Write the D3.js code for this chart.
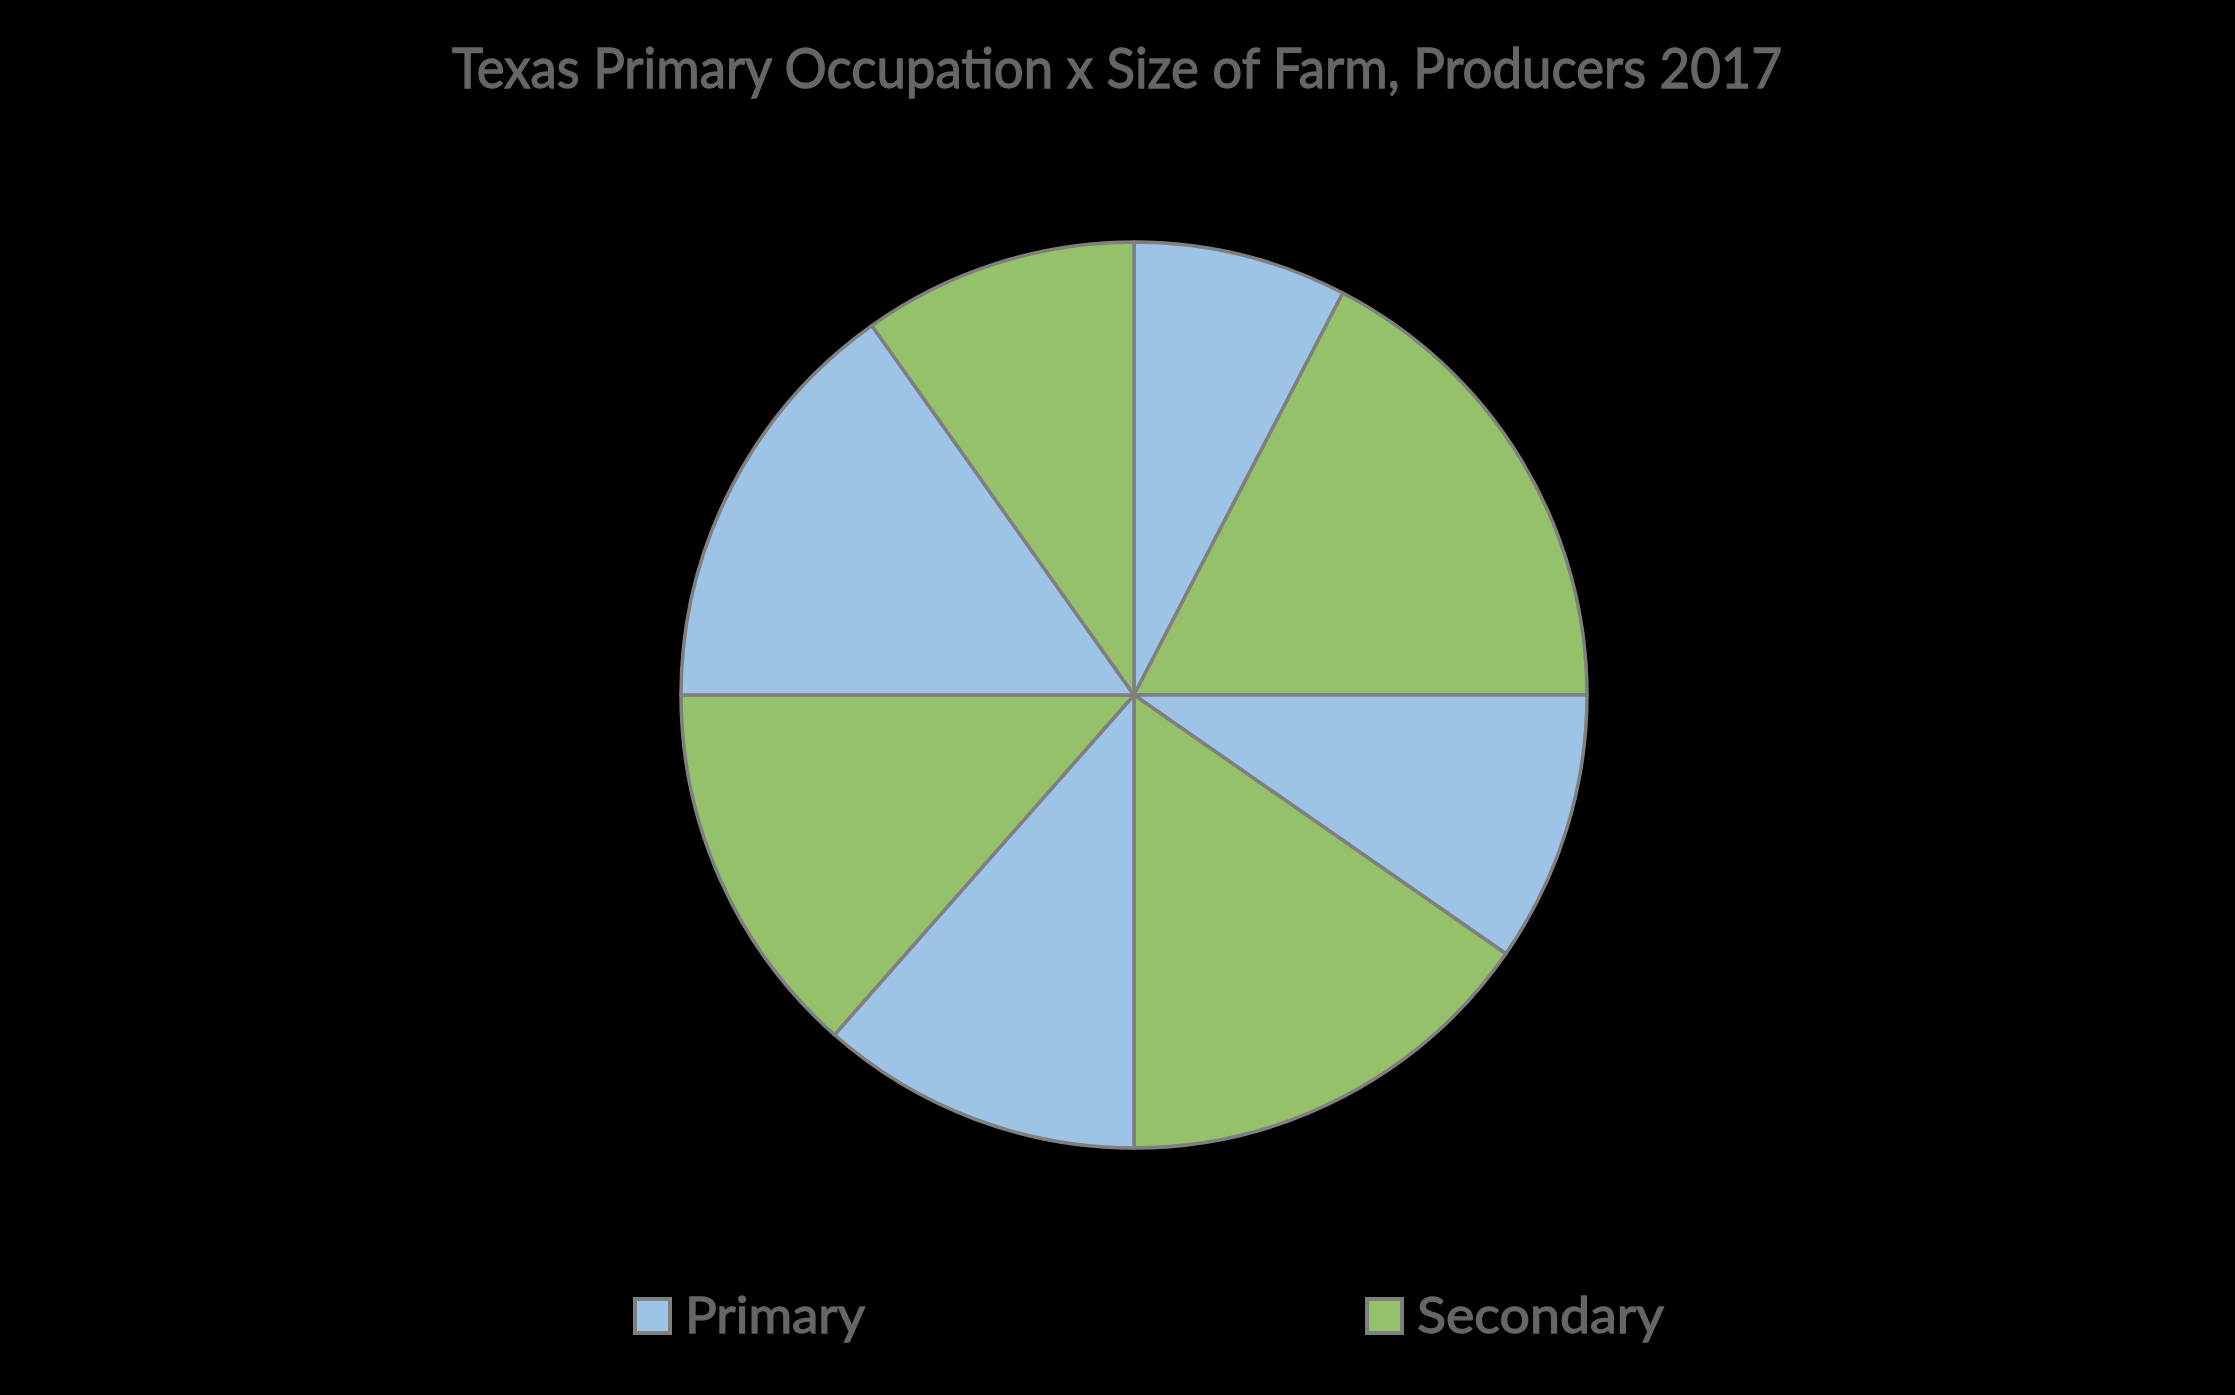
<!DOCTYPE html>
<head>
  <style>
  body { margin: 0; background: #000; }
  text { font-family: Lato, "Open Sans", sans-serif; }
  </style>
</head>
<body>
<svg width="2235" height="1395"></svg>
<script src="https://cdnjs.cloudflare.com/ajax/libs/d3/7.8.5/d3.min.js"></script>
<script>

// farm size classes, smallest to largest (shares of producers in each class)
var sizeClasses = ["Class 1", "Class 2", "Class 3", "Class 4"];
var primary = [30.5, 38.7, 46.0, 60.7];
var secondary = [69.5, 61.3, 54.0, 39.3];
var seriesNames = ["Primary", "Secondary"];

var title = "Texas Primary Occupation x Size of Farm, Producers 2017";

// interleave so the pie goes primary, secondary, primary, ...
var slices = [];
sizeClasses.forEach(function(c, i) {
  slices.push({size: c, occ: "Primary", value: primary[i]});
  slices.push({size: c, occ: "Secondary", value: secondary[i]});
});

var svg = d3.select("svg"),
    cx = 1134, cy = 695, radius = 453;

svg.append("rect")
    .attr("width", 2235)
    .attr("height", 1395)
    .attr("fill", "#000");

var color = d3.scaleOrdinal()
    .domain(seriesNames)
    .range(["#9dc3e6", "#95c16a"]);

var pie = d3.pie()
    .sort(null)
    .value(function(d) { return d.value; });

var arc = d3.arc()
    .innerRadius(0)
    .outerRadius(radius);

var g = svg.append("g")
    .attr("transform", "translate(" + cx + "," + cy + ")");

g.selectAll("path")
    .data(pie(slices))
    .enter().append("path")
        .attr("d", arc)
        .attr("fill", function(d) { return color(d.data.occ); })
        .attr("stroke", "#7f7f7f")
        .attr("stroke-width", 3.5)
        .attr("stroke-linejoin", "round");

//Title
svg.append("text")
    .attr("x", 452)
    .attr("y", 88)
    .attr("fill", "#666")
    .attr("stroke", "#666")
    .attr("stroke-width", 1.3)
    .style("font-size", "56px")
    .attr("textLength", 1330)
    .attr("lengthAdjust", "spacingAndGlyphs")
    .text(title);

//Legend
var legendX = {Primary: 633, Secondary: 1365},
    legendW = {Primary: 180, Secondary: 247};

var legend = svg.selectAll(".legend")
    .data(seriesNames)
    .enter().append("g")
        .attr("class", "legend")
        .attr("transform", function(d) { return "translate(" + legendX[d] + ",1297)"; });

legend.append("rect")
    .attr("x", 2)
    .attr("y", 2)
    .attr("width", 35)
    .attr("height", 34)
    .attr("fill", function(d) { return color(d); })
    .attr("stroke", "#7f7f7f")
    .attr("stroke-width", 4);

legend.append("text")
    .attr("x", 52)
    .attr("y", 36)
    .attr("fill", "#666")
    .attr("stroke", "#666")
    .attr("stroke-width", 1.3)
    .style("font-size", "50px")
    .attr("textLength", function(d) { return legendW[d]; })
    .attr("lengthAdjust", "spacingAndGlyphs")
    .text(function(d) { return d; });

</script>
</body>
